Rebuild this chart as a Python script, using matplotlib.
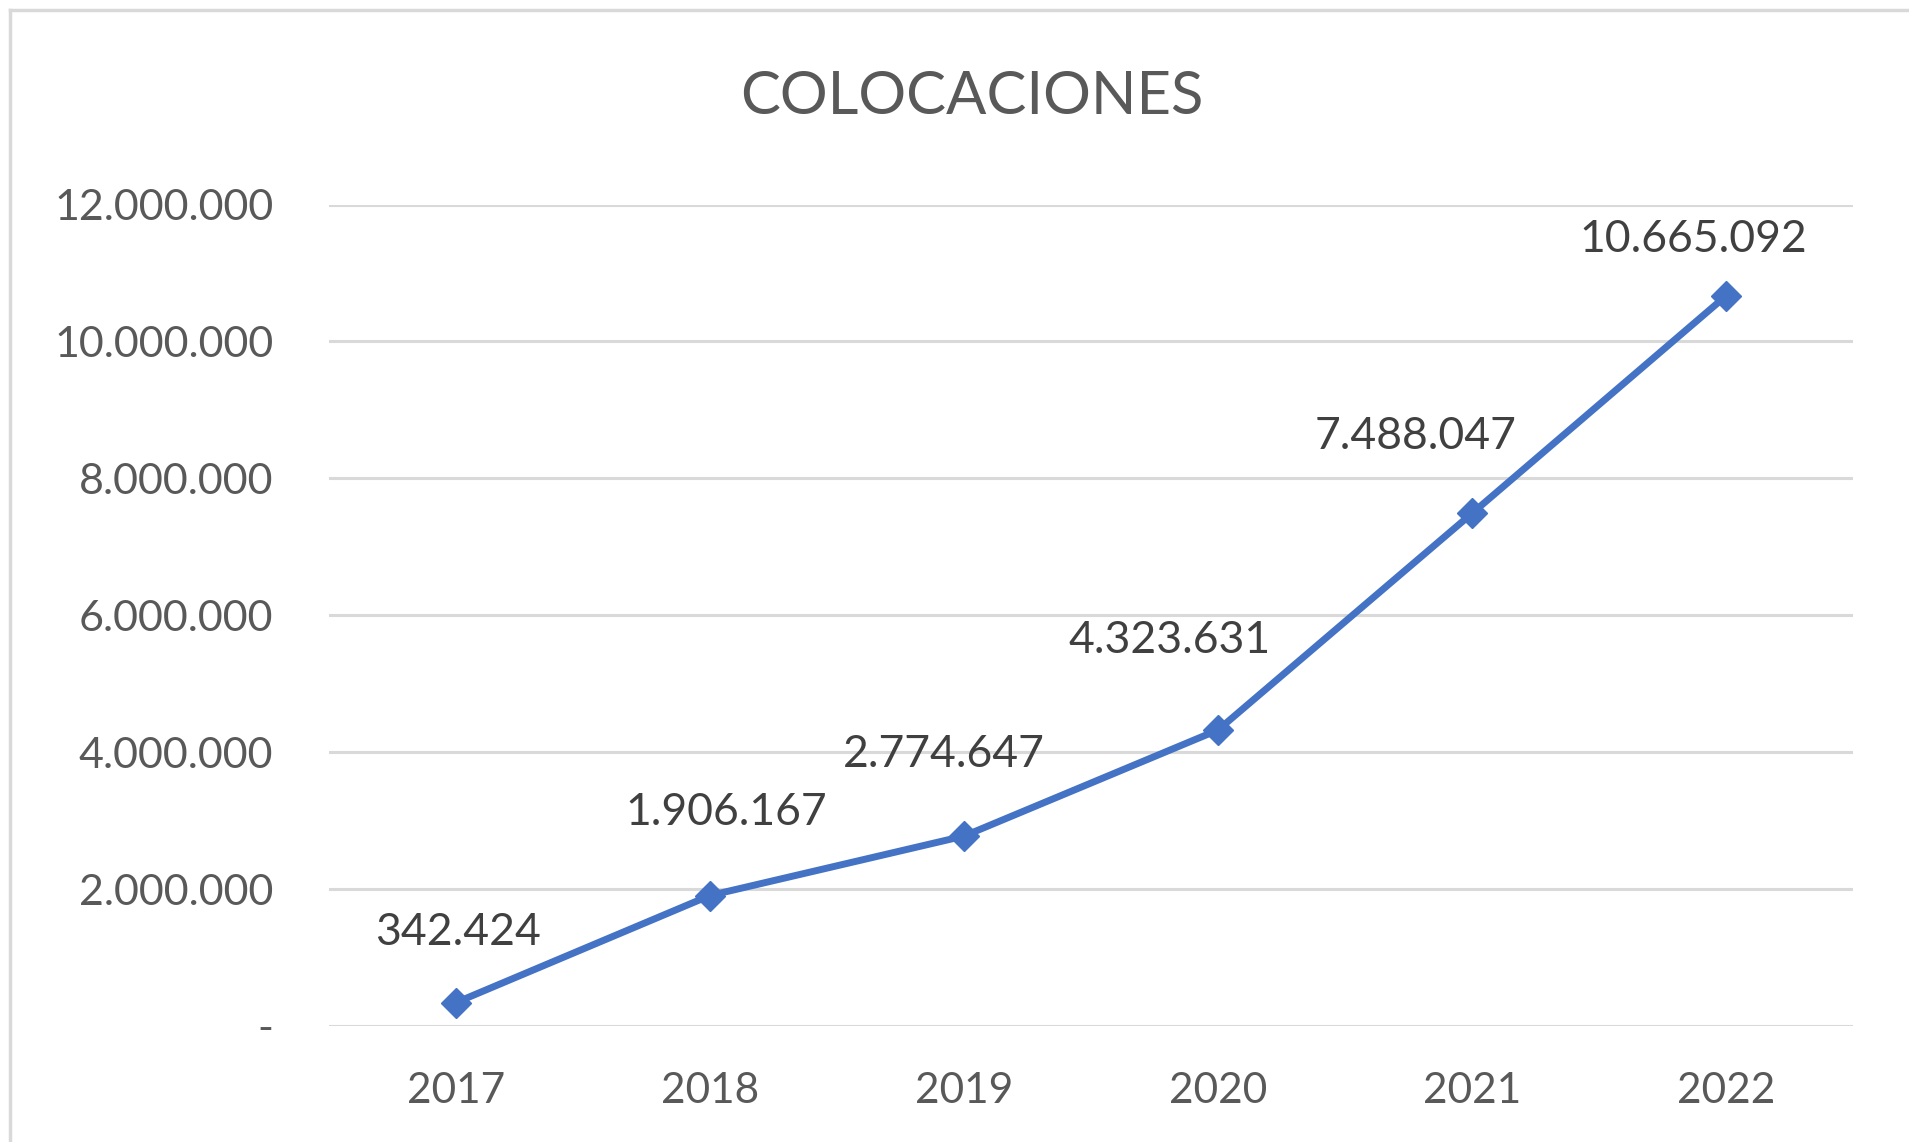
import matplotlib.pyplot as plt
from matplotlib.lines import Line2D

years = ['2017', '2018', '2019', '2020', '2021', '2022']
colocaciones = [342424, 1906167, 2774647, 4323631, 7488047, 10665092]
y_ticks = [0, 2000000, 4000000, 6000000, 8000000, 10000000, 12000000]

# desplazamiento de cada etiqueta respecto a su punto (en puntos), como lo dejo Excel
label_dx = [1.7, 11.5, -14.4, -34.6, -40.3, -23.8]
label_dy = [50.8, 59.8, 59.0, 64.8, 55.4, 40.3]


def fmt_miles(v):
    # formato contable: separador de miles con punto, cero como guion
    if v == 0:
        return '-'
    return f'{v:,.0f}'.replace(',', '.')


plt.rcParams['font.family'] = ['Lato', 'DejaVu Sans']
text_color = '#595959'
grid_color = '#D9D9D9'
line_color = '#4472C4'

fig = plt.figure(figsize=(19.09, 11.42), dpi=100)
ax = fig.add_axes([329 / 1909, 1 - 1026 / 1142, (1853 - 329) / 1909, (1026 - 204.5) / 1142])

x = list(range(len(years)))
ax.plot(x, colocaciones, color=line_color, linewidth=5, marker='D',
        markersize=15, markeredgewidth=1, zorder=3)

for xi, v, dx, dy in zip(x, colocaciones, label_dx, label_dy):
    ax.annotate(fmt_miles(v), (xi, v), xytext=(dx, dy), textcoords='offset points',
                ha='center', va='center', fontsize=32, color='#404040')

ax.set_xlim(-0.5, len(years) - 0.5)
ax.set_ylim(0, 12000000)
ax.set_yticks(y_ticks)
ax.set_yticklabels([fmt_miles(v) for v in y_ticks])
ax.set_xticks(x)
ax.set_xticklabels(years)
ax.tick_params(axis='both', length=0, labelcolor=text_color)
ax.tick_params(axis='y', pad=40, labelsize=31)
ax.tick_params(axis='x', pad=33, labelsize=30.5)
ax.grid(axis='y', color=grid_color, linewidth=2.2)
ax.set_axisbelow(True)
for s in ax.spines.values():
    s.set_visible(False)

fig.text(972 / 1909, 1 - 97 / 1142, 'COLOCACIONES', ha='center', va='center',
         fontsize=43, color=text_color)

# borde del grafico (recortado a la derecha y abajo)
fig.add_artist(Line2D([10 / 1909, 10 / 1909], [0, 1 - 10 / 1142],
                      transform=fig.transFigure, color=grid_color, linewidth=2.5))
fig.add_artist(Line2D([10 / 1909, 1], [1 - 10 / 1142, 1 - 10 / 1142],
                      transform=fig.transFigure, color=grid_color, linewidth=2.5))

fig.savefig('out.png', dpi=100)
